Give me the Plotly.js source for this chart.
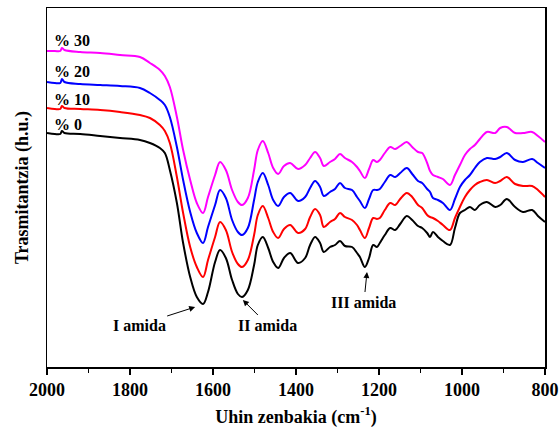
<!DOCTYPE html>
<html>
<head>
<meta charset="utf-8">
<script src="https://cdn.plot.ly/plotly-3.0.1.min.js"></script>
<style>html,body{margin:0;padding:0;background:#fff;}#chart{width:559px;height:428px;}</style>
</head>
<body>
<div id="chart"></div>
<script>
// Wavenumber grid (cm^-1)
const wavenumber = [2000,1981,1968,1964,1958,1920,1872,1824,1776,1752,1728,1716,1704,1687,1672,1655,1639,1624,1612,1595,1583,1569,1554,1540,1530,1516,1501,1492,1480,1467,1455,1443,1429,1414,1395,1378,1366,1354,1342,1333,1318,1306,1294,1282,1265,1253,1246,1234,1224,1214,1205,1198,1186,1173,1161,1149,1133,1120,1106,1096,1084,1077,1070,1058,1046,1029,1017,1005,993,981,969,957,940,920,908,892,872,853,831,817,800];

// Transmittance (arbitrary units, stacked)
const t0 = [234,233,233,236,234,233,231,229,227,224,219,214,197,164,124,90,70,63,75,105,117,109,87,73,70,77,102,122,130,119,105,99,109,114,104,109,122,130,124,115,120,122,126,121,120,114,110,100,109,122,120,124,132,139,137,143,151,147,141,139,134,130,135,130,126,122,139,154,157,160,157,162,165,160,162,168,160,155,157,151,145];
const t10 = [259,258,258,261,259,258,257,255,252,249,242,236,224,190,154,120,100,90,107,130,145,137,115,103,100,107,132,152,161,149,135,129,138,142,134,138,150,158,152,140,145,148,154,150,147,142,137,129,139,149,148,149,157,164,162,168,174,170,162,159,152,150,149,146,142,137,149,160,170,177,182,185,187,184,186,190,183,181,181,177,170];
const t20 = [285,284,284,288,285,283,282,281,279,274,267,262,250,220,187,155,134,124,140,162,177,169,147,135,132,139,167,185,194,182,167,161,170,174,166,170,179,186,180,171,175,178,184,179,177,170,166,159,168,177,177,178,185,192,190,194,199,193,186,184,178,175,169,167,164,157,168,180,187,192,199,205,209,208,210,214,207,205,208,204,199];
const t30 = [316,316,316,319,317,315,314,312,310,304,297,291,280,250,217,187,164,154,170,192,205,197,177,165,162,169,197,217,226,214,199,193,201,204,198,202,209,215,209,201,205,208,213,209,205,200,196,189,198,207,205,207,214,220,218,221,225,220,215,214,204,196,192,190,188,182,192,202,212,218,222,228,235,234,239,240,234,234,235,231,225];

const seriesNames = ['% 0','% 10','% 20','% 30'];
const seriesColors = ['#000000','#ff0000','#0000ff','#ff00ff'];
const seriesData = [t0,t10,t20,t30];

// label positions (wavenumber, value)
const labelX = [1988,1988,1988,1988];
const labelY = [243,268,296,327];

// band labels: arrow head position (wavenumber, value) and text offset in px
const bandNames = ['I amida','II amida','III amida'];
const bandHeadX = [1643,1528,1229];
const bandHeadY = [60,67,95];
const bandAx = [-56,25,-3];
const bandAy = [18,25,30];

const FONT = 'Liberation Serif, Times New Roman, serif';

const traces = seriesData.map((d,i)=>({
  x: wavenumber, y: d, type:'scatter', mode:'lines', name: seriesNames[i],
  line:{color:seriesColors[i], width:2, shape:'spline', smoothing:1},
  showlegend:false, hoverinfo:'skip'
}));

const annotations = [];
seriesNames.forEach((n,i)=>{
  annotations.push({x:labelX[i], y:labelY[i], xref:'x', yref:'y', text:'<b>'+n+'</b>',
    showarrow:false, xanchor:'left', yanchor:'middle', font:{family:FONT,size:16,color:'#000'}});
});
bandNames.forEach((n,i)=>{
  annotations.push({x:bandHeadX[i], y:bandHeadY[i], xref:'x', yref:'y', text:'<b>'+n+'</b>',
    showarrow:true, ax:bandAx[i], ay:bandAy[i], arrowhead:2, arrowsize:1.2, arrowwidth:1, arrowcolor:'#000',
    font:{family:FONT,size:16,color:'#000'}});
});

const layout = {
  width:559, height:428,
  margin:{l:47, r:14, t:8, b:61},
  paper_bgcolor:'#fff', plot_bgcolor:'#fff',
  font:{family:FONT, color:'#000'},
  xaxis:{
    range:[2000,800], showgrid:false, zeroline:false,
    showline:true, linecolor:'#000', linewidth:1.5, mirror:true,
    ticks:'outside', ticklen:6, tickwidth:1.5, tickcolor:'#000', dtick:200, tick0:800,
    minor:{ticks:'outside', ticklen:4, tickwidth:1.5, tickcolor:'#000', dtick:100},
    tickfont:{family:FONT, size:18, color:'#000', weight:'bold'},
    title:{text:'<b>Uhin zenbakia (cm<sup>-1</sup>)</b>', font:{family:FONT, size:18, color:'#000'}, standoff:14}
  },
  yaxis:{
    range:[0,359], showgrid:false, zeroline:false, showticklabels:false, ticks:'',
    showline:true, linecolor:'#000', linewidth:1.5, mirror:true,
    title:{text:'<b>Trasmitantzia (h.u.)</b>', font:{family:FONT, size:18, color:'#000'}, standoff:12}
  },
  annotations: annotations
};

Plotly.newPlot('chart', traces, layout, {displayModeBar:false, staticPlot:true});
</script>
</body>
</html>
